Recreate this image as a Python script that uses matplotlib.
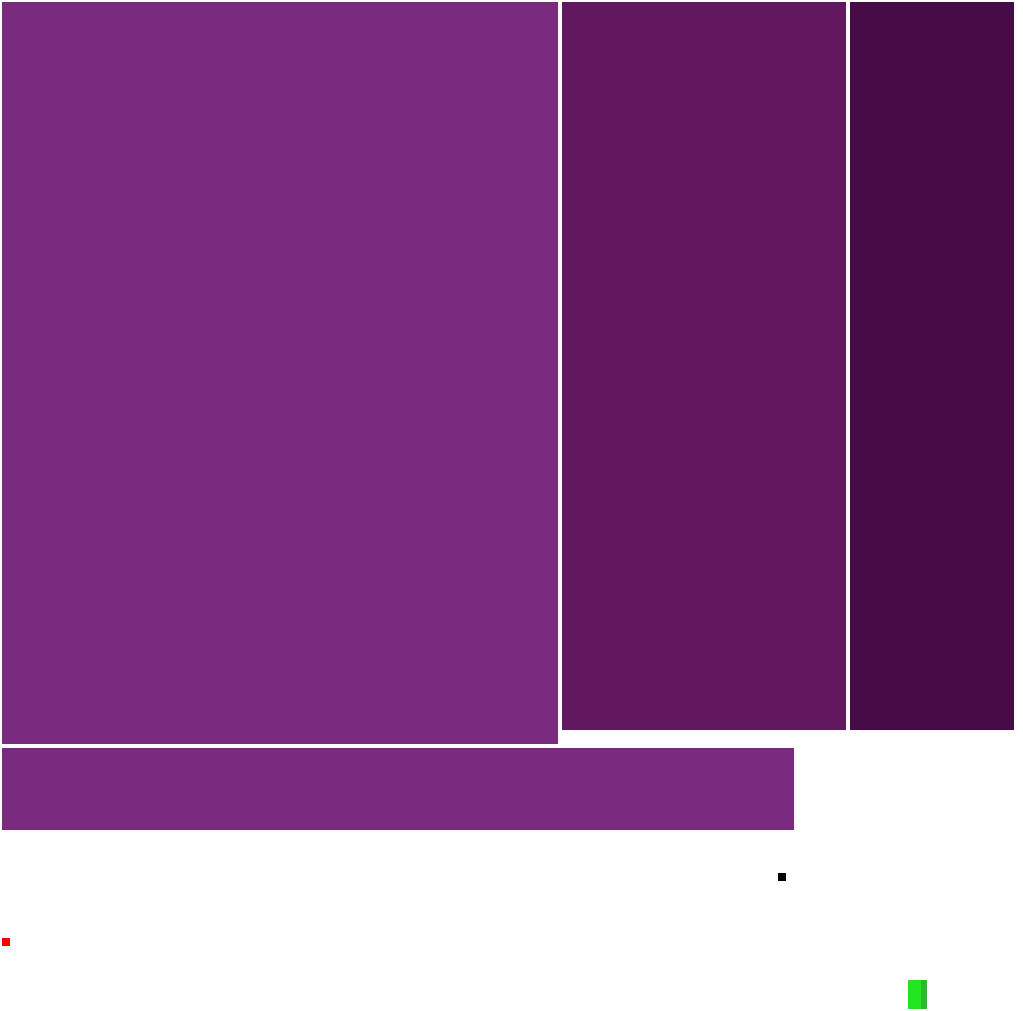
import matplotlib.pyplot as plt

names = ["A", "B", "C", "D", "dot", "red", "green", "green2"]
left = [2, 562, 850, 2, 778, 2, 908, 921]
width = [556, 284, 164, 792, 8, 8, 13, 6]
top = [2, 2, 2, 748, 873, 938, 980, 980]
height = [742, 728, 728, 82, 8, 8, 29, 29]
colors = ["#792a7e", "#61185f", "#460a47", "#792a7e",
          "#000000", "#ff0000", "#22e622", "#2db82d"]

fig = plt.figure(figsize=(10.23, 10.11), dpi=100)
ax = fig.add_axes([0, 0, 1, 1])
ax.bar(left, height, width=width, bottom=top, align="edge",
       color=colors, linewidth=0)
ax.set_xlim(0, 1023)
ax.set_ylim(1011, 0)
ax.axis("off")

fig.savefig("out.png", dpi=100)
